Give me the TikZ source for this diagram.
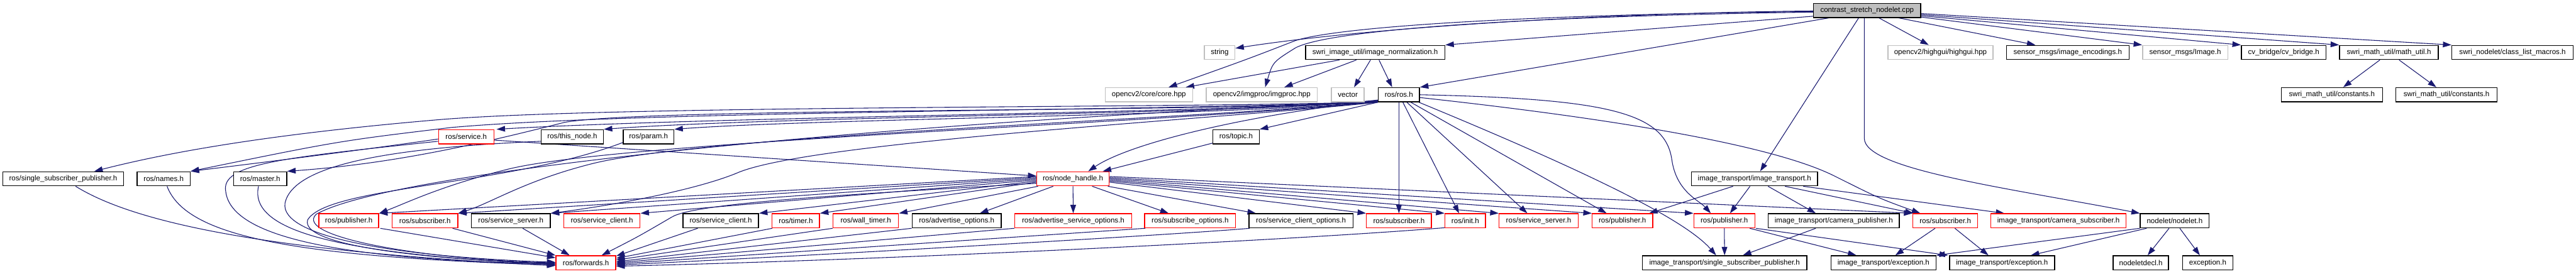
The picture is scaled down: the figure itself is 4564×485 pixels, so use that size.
\documentclass[tikz,border=0pt]{standalone}
\usepackage{fontspec}
\setmainfont{Liberation Sans}
\usetikzlibrary{calc,arrows.meta}
\definecolor{edgec}{HTML}{191970}
\definecolor{grayb}{HTML}{BFBFBF}
\definecolor{redb}{HTML}{FF0000}
\pgfdeclarelayer{bg}
\pgfsetlayers{bg,main}
\tikzset{
 box/.style={rectangle, draw, fill=white, line width=0.8pt, minimum height=12.5pt, inner sep=0pt, font=\fontsize{6.45}{7.5}\selectfont},
 blk/.style={box, draw=black},
 redn/.style={box, draw=redb},
 gryn/.style={box, draw=grayb},
 lnk/.style={draw=edgec, line width=0.6pt, -{Triangle[length=7.5pt,width=5pt]}},
}
\begin{document}
\begin{tikzpicture}[x=0.5pt,y=-0.5pt]
\useasboundingbox (0,0) rectangle (4564,485);
% row 0
\node[blk, fill=grayb, minimum width=95pt] (M) at (3308,18.5) {contrast\_stretch\_nodelet.cpp};
% row 1
\node[gryn, minimum width=27pt] (string) at (2161,93) {string};
\node[blk, minimum width=123.5pt] (norm) at (2436.5,93) {swri\_image\_util/image\_normalization.h};
\node[gryn, minimum width=93pt] (highgui) at (3438,93) {opencv2/highgui/highgui.hpp};
\node[blk, minimum width=108.5pt] (encodings) at (3663.5,93) {sensor\_msgs/image\_encodings.h};
\node[gryn, minimum width=75.5pt] (Image) at (3871.5,93) {sensor\_msgs/Image.h};
\node[blk, minimum width=75pt] (cvb) at (4046,93) {cv\_bridge/cv\_bridge.h};
\node[blk, minimum width=87.5pt] (mathu) at (4232.5,93) {swri\_math\_util/math\_util.h};
\node[blk, minimum width=107.5pt] (clm) at (4451.5,93) {swri\_nodelet/class\_list\_macros.h};
% row 2
\node[gryn, minimum width=77.5pt] (core) at (2035.5,168) {opencv2/core/core.hpp};
\node[gryn, minimum width=98.5pt] (imgproc) at (2235.5,168) {opencv2/imgproc/imgproc.hpp};
\node[gryn, minimum width=29pt] (vector) at (2388,168) {vector};
\node[blk, minimum width=36.5pt] (ros) at (2478.5,168) {ros/ros.h};
\node[blk, minimum width=89.5pt] (const1) at (4131.5,168) {swri\_math\_util/constants.h};
\node[blk, minimum width=89.5pt] (const2) at (4334.5,168) {swri\_math\_util/constants.h};
% row 3
\node[redn, minimum width=49pt] (service) at (826,242.5) {ros/service.h};
\node[blk, minimum width=55pt] (thisnode) at (1014,242.5) {ros/this\_node.h};
\node[blk, minimum width=45pt] (param) at (1149,242.5) {ros/param.h};
\node[blk, minimum width=41pt] (topic) at (2190,242.5) {ros/topic.h};
% row 4
\node[blk, minimum width=107pt] (rssp) at (112,317) {ros/single\_subscriber\_publisher.h};
\node[blk, minimum width=47pt] (names) at (290,317) {ros/names.h};
\node[blk, minimum width=47pt] (master) at (461,317) {ros/master.h};
\node[redn, minimum width=64pt] (nh) at (1901,317) {ros/node\_handle.h};
\node[blk, minimum width=111.5pt] (it) at (3108.5,317) {image\_transport/image\_transport.h};
% row 5
\node[redn, minimum width=53pt] (pub1) at (618,391.5) {ros/publisher.h};
\node[redn, minimum width=58pt] (sub1) at (753,391.5) {ros/subscriber.h};
\node[blk, minimum width=70pt] (ss1) at (905,391.5) {ros/service\_server.h};
\node[redn, minimum width=67.5pt] (sc1) at (1066.5,391.5) {ros/service\_client.h};
\node[blk, minimum width=67pt] (sc2) at (1277,391.5) {ros/service\_client.h};
\node[redn, minimum width=42pt] (timer) at (1410,391.5) {ros/timer.h};
\node[redn, minimum width=58pt] (wt) at (1534,391.5) {ros/wall\_timer.h};
\node[blk, minimum width=79pt] (ao) at (1695,391.5) {ros/advertise\_options.h};
\node[redn, minimum width=103.5pt] (aso) at (1901.5,391.5) {ros/advertise\_service\_options.h};
\node[redn, minimum width=80.5pt] (so) at (2108.5,391.5) {ros/subscribe\_options.h};
\node[blk, minimum width=92pt] (sco) at (2305,391.5) {ros/service\_client\_options.h};
\node[redn, minimum width=57.5pt] (sub2) at (2478.5,391.5) {ros/subscriber.h};
\node[redn, minimum width=36pt] (init) at (2596,391.5) {ros/init.h};
\node[redn, minimum width=70pt] (ss2) at (2726,391.5) {ros/service\_server.h};
\node[redn, minimum width=53.5pt] (pub2) at (2874.5,391.5) {ros/publisher.h};
\node[redn, minimum width=54pt] (pub3) at (3055,391.5) {ros/publisher.h};
\node[blk, minimum width=116pt] (cp) at (3249,391.5) {image\_transport/camera\_publisher.h};
\node[redn, minimum width=57.5pt] (sub3) at (3446.5,391.5) {ros/subscriber.h};
\node[redn, minimum width=120pt] (cs) at (3647,391.5) {image\_transport/camera\_subscriber.h};
\node[blk, minimum width=61pt] (nodelet) at (3853,391.5) {nodelet/nodelet.h};
% row 6
\node[redn, minimum width=53pt] (fwd) at (1038,466) {ros/forwards.h};
\node[blk, minimum width=145.5pt] (itssp) at (3055.5,466) {image\_transport/single\_subscriber\_publisher.h};
\node[blk, minimum width=93pt] (ex1) at (3337,466) {image\_transport/exception.h};
\node[blk, minimum width=93pt] (ex2) at (3547,466) {image\_transport/exception.h};
\node[blk, minimum width=49pt] (ndecl) at (3793,466) {nodeletdecl.h};
\node[blk, minimum width=44.5pt] (exc) at (3911.5,466) {exception.h};

\begin{pgfonlayer}{bg}
% from main
\draw[lnk] ($(M.west)+(0,1)$) .. controls (2900,22) and (2450,45) .. (string.15);
\draw[lnk] ($(M.west)+(0,2)$) .. controls (2750,25) and (2380,45) .. (2295,72) .. controls (2210,105) .. ($(core.north)+(35,0)$);
\draw[lnk] ($(M.west)+(0,3)$) .. controls (2750,28) and (2360,50) .. (2295,85) .. controls (2255,110) .. ($(imgproc.north)+(6,0)$);
\draw[lnk] ($(M.south west)+(0,-3)$) -- (norm.north east);
\draw[lnk] ($(M.south west)+(28,0)$) -- (ros.north east);
\draw[lnk] ($(M.south)+(21,0)$) -- ($(highgui.north west)+(73,0)$);
\draw[lnk] ($(M.south)+(56,0)$) -- ($(encodings.north west)+(52,0)$);
\draw[lnk] ($(M.south east)+(-4,-2)$) -- (Image.north west);
\draw[lnk] ($(M.east)+(0,9.5)$) -- (cvb.north west);
\draw[lnk] ($(M.east)+(0,7.5)$) -- (mathu.north west);
\draw[lnk] ($(M.east)+(0,5.5)$) -- (clm.north west);
\draw[lnk] ($(M.south)+(-15,0)$) -- ($(it.north)+(10,0)$);
\draw[lnk] ($(M.south)+(-5,0)$) -- (3303,245) .. controls (3303,300) and (3550,332) .. (nodelet.north west);
% image normalization
\draw[lnk] ($(norm.south west)+(61,0)$) -- ($(core.north east)+(-13,0)$);
\draw[lnk] ($(norm.south west)+(91,0)$) -- ($(imgproc.north)+(40,0)$);
\draw[lnk] ($(norm.south west)+(116,0)$) -- ($(vector.north)+(11,0)$);
\draw[lnk] ($(norm.south west)+(131,0)$) -- ($(ros.north)+(-12,0)$);
% math util
\draw[lnk] ($(mathu.south)+(-16,0)$) -- ($(const1.north)+(20,0)$);
\draw[lnk] ($(mathu.south)+(18,0)$) -- ($(const2.north)+(-18,0)$);
% ros.h
\draw[lnk] (ros.south west) -- (topic.north east);
\draw[lnk] (ros.south) -- (sub2.north);
\draw[lnk] ($(ros.south)+(7,0)$) -- ($(init.north)+(-11,0)$);
\draw[lnk] ($(ros.south)+(14,0)$) -- ($(ss2.north)+(-20,0)$);
\draw[lnk] ($(ros.south)+(21,0)$) -- ($(pub2.north)+(-28,0)$);
\draw[lnk] ($(ros.south east)+(-2,0)$) .. controls (2850,320) and (2990,395) .. ($(itssp.north)+(-15,0)$);
\draw[lnk] (ros.east) .. controls (2850,175) and (2950,200) .. (2962,283) .. controls (2970,340) and (3010,355) .. ($(pub3.north)+(-24,0)$);
\draw[lnk] ($(ros.east)+(0,5)$) .. controls (2900,215) and (3150,262) .. (3250,312) .. controls (3330,352) .. ($(sub3.north west)+(14,0)$);
\draw[lnk] ($(ros.south west)+(0,-3)$) .. controls (2200,205) and (2000,255) .. ($(nh.north)+(27,0)$);
\draw[lnk] ($(ros.south west)+(0,-4)$) .. controls (2250,200) and (1300,205) .. ($(service.north east)+(4,0)$);
\draw[lnk] ($(ros.south west)+(0,-3.5)$) .. controls (2250,202) and (1400,205) .. (thisnode.north east);
\draw[lnk] ($(ros.south west)+(0,-2.5)$) .. controls (2250,204) and (1450,210) .. (param.north east);
\draw[lnk] ($(ros.south west)+(0,-2)$) .. controls (2200,200) and (1150,190) .. (1000,217) .. controls (850,255) and (700,290) .. (master.north east);
\draw[lnk] ($(ros.south west)+(0,-1.5)$) .. controls (2150,196) and (1150,195) .. (800,226) .. controls (600,250) .. (names.north east);
\draw[lnk] ($(ros.south west)+(0,-1)$) .. controls (2150,192) and (1100,186) .. (780,212) .. controls (450,240) and (280,275) .. ($(rssp.north)+(55,0)$);
\draw[lnk] ($(ros.south west)+(0,-0.5)$) .. controls (1600,215) and (700,300) .. (560,380) .. controls (520,420) and (750,460) .. (fwd.west);
\draw[lnk] (ros.south west) .. controls (2150,212) and (1450,250) .. (1310,305) .. controls (1240,335) and (1100,362) .. (ss1.north east);
\draw[lnk] ($(ros.south west)+(0,-0.5)$) .. controls (2100,212) and (1250,240) .. (1050,290) .. controls (930,320) and (870,360) .. (sub1.north east);
\draw[lnk] ($(ros.south west)+(0,-1)$) .. controls (2100,217) and (1100,250) .. (900,300) .. controls (780,330) and (720,360) .. (pub1.north east);
% topic, service
\draw[lnk] ($(topic.south west)+(0,-2)$) -- ($(nh.north east)+(-12,0)$);
\draw[lnk] ($(service.east)+(0,6)$) -- ($(nh.west)+(0,-5)$);
\draw[lnk] ($(service.west)+(0,4)$) .. controls (650,265) and (450,290) .. (names.north east);
\draw[lnk] ($(service.west)+(0,8)$) .. controls (500,280) and (390,290) .. (400,340) .. controls (410,420) and (600,460) .. ($(fwd.west)+(0,2)$);
\draw[lnk] ($(thisnode.west)+(0,8)$) .. controls (700,262) and (520,290) .. (505,360) .. controls (495,420) and (700,455) .. ($(fwd.west)+(0,-1)$);
\draw[lnk] ($(param.south west)+(0,-3)$) .. controls (900,330) and (580,330) .. (545,390) .. controls (530,440) and (800,462) .. ($(fwd.west)+(0,1)$);
% into forwards from the left
\draw[lnk] ($(rssp.south)+(22,0)$) .. controls (230,390) and (450,445) .. ($(fwd.west)+(0,5)$);
\draw[lnk] ($(names.south)+(6,0)$) .. controls (330,420) and (520,455) .. ($(fwd.west)+(0,4)$);
\draw[lnk] ($(master.south)+(-3,0)$) .. controls (440,410) and (600,450) .. ($(fwd.west)+(0,3)$);
\draw[lnk] ($(pub1.south east)+(2,0)$) -- ($(fwd.west)+(0,-9)$);
\draw[lnk] ($(sub1.south east)+(-10,0)$) -- (fwd.north west);
\draw[lnk] ($(ss1.south)+(21,0)$) -- ($(fwd.north west)+(25,0)$);
% into forwards from the right
\draw[lnk] ($(nh.west)+(0,8)$) .. controls (1500,345) and (1230,360) .. (1190,385) .. controls (1130,420) .. ($(fwd.north)+(28,0)$);
\draw[lnk] ($(sc2.south west)+(27,0)$) -- ($(fwd.east)+(0,-12)$);
\draw[lnk] ($(timer.south west)+(1,0)$) -- ($(fwd.east)+(0,-8)$);
\draw[lnk] (wt.south west) -- ($(fwd.east)+(0,-5)$);
\draw[lnk] (ao.south west) -- ($(fwd.east)+(0,-2)$);
\draw[lnk] (aso.south west) -- (fwd.east);
\draw[lnk] ($(so.south west)+(2,0)$) -- ($(fwd.east)+(0,2)$);
\draw[lnk] ($(sco.south west)+(2,0)$) .. controls (2100,415) and (1500,450) .. ($(fwd.east)+(0,4)$);
\draw[lnk] ($(init.south west)+(0,-1)$) .. controls (2300,425) and (1600,460) .. ($(fwd.east)+(0,6)$);
% node_handle
\draw[lnk] ($(nh.west)+(0,-4)$) -- (pub1.north east);
\draw[lnk] ($(nh.west)+(0,-2)$) -- (sub1.north east);
\draw[lnk] (nh.west) -- (ss1.north east);
\draw[lnk] ($(nh.west)+(0,2)$) -- (sc1.north east);
\draw[lnk] ($(nh.west)+(0,4)$) -- (sc2.north east);
\draw[lnk] ($(nh.west)+(0,6)$) -- (timer.north east);
\draw[lnk] ($(nh.south west)+(3,0)$) -- (wt.north east);
\draw[lnk] ($(nh.south)+(-35,0)$) -- ($(ao.north)+(41,0)$);
\draw[lnk] (nh.south) -- (aso.north);
\draw[lnk] ($(nh.south)+(34,0)$) -- ($(so.north)+(-38,0)$);
\draw[lnk] ($(nh.south east)+(-3,0)$) -- ($(sco.north west)+(13,0)$);
\draw[lnk] ($(nh.east)+(0,6)$) -- (sub2.north west);
\draw[lnk] ($(nh.east)+(0,4)$) -- (init.north west);
\draw[lnk] ($(nh.east)+(0,2)$) -- (ss2.north west);
\draw[lnk] (nh.east) -- (pub2.north west);
\draw[lnk] ($(nh.east)+(0,-2)$) -- (pub3.north west);
\draw[lnk] ($(nh.east)+(0,-4)$) -- (sub3.north west);
% image_transport
\draw[lnk] ($(it.south)+(-38,0)$) -- ($(pub2.north east)+(-7,0)$);
\draw[lnk] ($(it.south)+(-8,0)$) -- ($(pub3.north)+(10,0)$);
\draw[lnk] ($(it.south)+(24,0)$) -- ($(cp.north)+(-32,0)$);
\draw[lnk] ($(it.south)+(54,0)$) -- ($(sub3.north west)+(2,0)$);
\draw[lnk] ($(it.south east)+(-26,0)$) -- ($(cs.north west)+(25,0)$);
% bottom
\draw[lnk] (pub3.south) -- (itssp.north);
\draw[lnk] ($(pub3.south)+(45,0)$) -- ($(ex1.north)+(-48,0)$);
\draw[lnk] ($(pub3.south east)+(1,0)$) -- ($(ex2.north west)+(-2,0)$);
\draw[lnk] ($(cp.south)+(-32,0)$) -- ($(itssp.north east)+(-114,0)$);
\draw[lnk] ($(sub3.south)+(-18,0)$) -- ($(ex1.north)+(21,0)$);
\draw[lnk] ($(sub3.south)+(17,0)$) -- ($(ex2.north)+(-24,0)$);
\draw[lnk] (nodelet.south west) -- (ex1.north east);
\draw[lnk] ($(nodelet.south west)+(12,0)$) -- ($(ex2.north)+(51,0)$);
\draw[lnk] ($(nodelet.south)+(-10,0)$) -- ($(ndecl.north)+(12,0)$);
\draw[lnk] ($(nodelet.south)+(9,0)$) -- ($(exc.north)+(-14,0)$);
\end{pgfonlayer}
\end{tikzpicture}
\end{document}
